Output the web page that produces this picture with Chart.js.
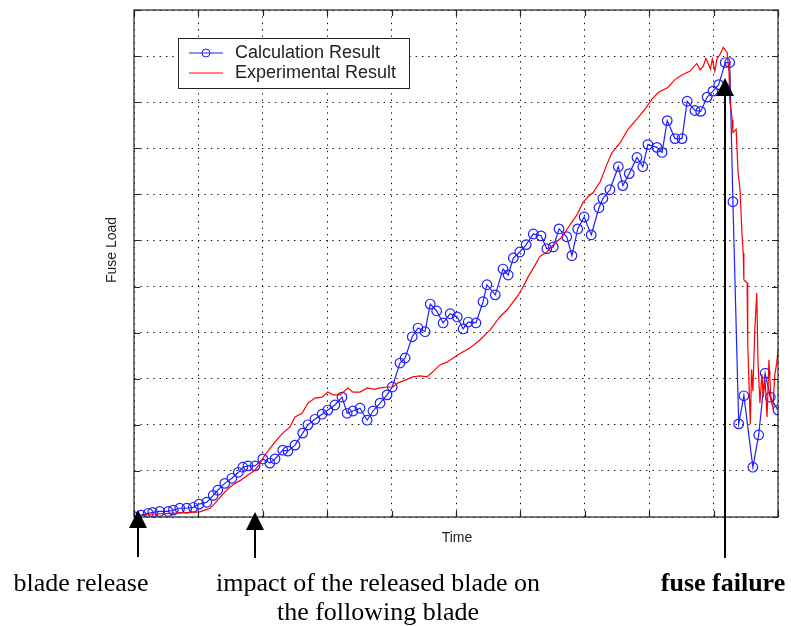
<!DOCTYPE html>
<html>
<head>
<meta charset="utf-8">
<script src="https://cdn.jsdelivr.net/npm/chart.js@4.4.1/dist/chart.umd.min.js"></script>
<style>
  html, body { margin: 0; padding: 0; background: #ffffff; }
  #wrap { width: 791px; height: 626px; position: relative; }
</style>
</head>
<body>
<div id="wrap"><canvas id="c" width="791" height="626"></canvas></div>
<script>
// ---- Data (arbitrary units: time 0..10, load 0..11) ----
const calcTime = [0.02,0.11,0.22,0.29,0.40,0.53,0.61,0.71,0.82,0.92,1.01,1.13,1.23,1.30,1.41,1.52,1.62,1.69,1.77,1.88,
  2.00,2.11,2.19,2.31,2.39,2.50,2.62,2.70,2.81,2.92,3.01,3.12,3.23,3.31,3.40,3.51,3.62,3.71,3.82,3.93,
  4.01,4.13,4.21,4.32,4.41,4.52,4.60,4.70,4.80,4.91,5.02,5.11,5.19,5.31,5.42,5.48,5.61,5.73,5.81,5.89,
  5.99,6.09,6.20,6.32,6.41,6.51,6.60,6.72,6.80,6.89,6.99,7.10,7.22,7.28,7.39,7.52,7.59,7.69,7.81,7.90,
  7.98,8.12,8.20,8.28,8.40,8.51,8.59,8.71,8.80,8.90,8.99,9.08,9.18,9.25,9.30,9.39,9.47,9.61,9.70,9.80,9.88,10.0];
const calcLoad = [0.00,0.04,0.08,0.10,0.12,0.12,0.15,0.19,0.19,0.21,0.28,0.32,0.47,0.58,0.73,0.84,0.97,1.08,1.11,1.11,
  1.26,1.17,1.26,1.45,1.43,1.56,1.82,2.00,2.12,2.23,2.32,2.43,2.60,2.25,2.30,2.36,2.10,2.30,2.47,2.65,
  2.82,3.34,3.45,3.91,4.10,4.02,4.62,4.47,4.21,4.41,4.34,4.08,4.23,4.21,4.67,5.04,4.82,5.38,5.25,5.62,
  5.75,5.91,6.14,6.10,5.82,5.86,6.25,6.08,5.67,6.25,6.51,6.12,6.71,6.91,7.10,7.60,7.19,7.45,7.80,7.60,
  8.08,8.02,7.91,8.60,8.21,8.21,9.02,8.82,8.80,9.11,9.24,9.38,9.86,9.86,6.84,2.02,2.63,1.08,1.78,3.12,2.60,2.32];

const expTime = [0.02,0.25,0.56,0.87,1.02,1.10,1.18,1.26,1.34,1.41,1.49,1.57,1.66,1.77,1.88,1.96,2.03,2.13,2.24,2.31,
  2.42,2.50,2.61,2.70,2.81,2.92,3.01,3.09,3.20,3.32,3.40,3.51,3.62,3.74,3.82,3.94,4.02,4.10,4.21,4.33,
  4.44,4.55,4.64,4.75,4.86,5.03,5.22,5.37,5.53,5.68,5.79,5.95,6.04,6.12,6.23,6.30,6.41,6.51,6.65,6.77,
  6.88,6.97,7.05,7.13,7.24,7.34,7.42,7.55,7.67,7.83,7.93,8.04,8.14,8.29,8.40,8.52,8.63,8.74,8.79,8.84,8.88,8.91,
  8.95,8.98,9.02,9.05,9.10,9.15,9.21,9.24,9.25,9.29,9.30,9.35,9.38,9.41,9.44,9.46,9.47,9.52,9.53,9.57,9.59,9.61,
  9.64,9.67,9.69,9.72,9.75,9.77,9.80,9.83,9.86,9.89,9.92,9.95,9.98,10.0];
const expLoad = [0.00,0.06,0.08,0.10,0.11,0.15,0.19,0.30,0.43,0.54,0.65,0.73,0.80,0.91,1.02,1.17,1.34,1.52,1.71,1.82,
  1.95,2.17,2.25,2.47,2.58,2.60,2.71,2.65,2.65,2.80,2.71,2.71,2.80,2.77,2.80,2.82,2.82,2.91,2.97,3.04,
  3.06,3.04,3.15,3.30,3.36,3.52,3.67,3.84,4.06,4.34,4.49,4.78,4.99,5.21,5.47,5.65,5.75,5.91,6.08,6.34,
  6.56,6.82,6.95,7.04,7.28,7.64,7.90,8.12,8.41,8.67,8.84,9.06,9.21,9.32,9.49,9.60,9.67,9.84,9.70,9.78,9.95,9.86,
  9.72,9.93,9.67,9.93,10.04,10.19,10.08,9.64,9.06,8.62,8.34,8.41,7.47,7.10,6.16,5.73,5.15,5.08,3.75,2.02,3.20,2.73,
  4.06,4.86,3.34,2.47,3.10,2.60,2.97,2.17,3.41,2.54,2.38,3.08,3.34,3.62];

const xTicks = [0,1,2,3,4,5,6,7,8,9,10];
const yTicks = [0,1,2,3,4,5,6,7,8,9,10,11];

const seriesNames = ['Calculation Result', 'Experimental Result'];
const axisTitles = { x: 'Time', y: 'Fuse Load' };
const notes = [
  { at: 0.06, lines: ['blade release'], bold: false },
  { at: 1.88, lines: ['impact of the released blade on', 'the following blade'], bold: false },
  { at: 9.18, lines: ['fuse failure'], bold: true }
];

const BLUE = '#1f1fff';
const RED = '#ff0000';

const calcPts = calcTime.map((t, i) => ({ x: t, y: calcLoad[i] }));
const expPts = expTime.map((t, i) => ({ x: t, y: expLoad[i] }));

const decor = {
  id: 'decor',
  afterDatasetsDraw(chart) {
    const ctx = chart.ctx;
    const a = chart.chartArea;
    const xs = chart.scales.x, ys = chart.scales.y;
    ctx.save();
    // frame
    ctx.strokeStyle = '#222';
    ctx.lineWidth = 1.2;
    ctx.setLineDash([]);
    ctx.strokeRect(a.left, a.top, a.right - a.left, a.bottom - a.top);
    // inward tick marks
    const tl = 6;
    ctx.beginPath();
    xTicks.forEach(v => {
      const px = Math.round(xs.getPixelForValue(v)) + 0.5;
      ctx.moveTo(px, a.bottom); ctx.lineTo(px, a.bottom - tl);
      ctx.moveTo(px, a.top); ctx.lineTo(px, a.top + tl);
    });
    yTicks.forEach(v => {
      const py = Math.round(ys.getPixelForValue(v)) + 0.5;
      ctx.moveTo(a.left, py); ctx.lineTo(a.left + tl, py);
      ctx.moveTo(a.right, py); ctx.lineTo(a.right - tl, py);
    });
    ctx.stroke();

    // legend box
    const lx = 178, ly = 38, lw = 231, lh = 50;
    ctx.fillStyle = '#fff';
    ctx.fillRect(lx, ly, lw, lh);
    ctx.strokeStyle = '#222';
    ctx.lineWidth = 1;
    ctx.strokeRect(lx + 0.5, ly + 0.5, lw, lh);
    const rows = [ly + 15, ly + 35];
    ctx.strokeStyle = BLUE; ctx.lineWidth = 1;
    ctx.beginPath(); ctx.moveTo(189, rows[0]); ctx.lineTo(223, rows[0]); ctx.stroke();
    ctx.beginPath(); ctx.arc(206, rows[0], 4, 0, Math.PI * 2); ctx.stroke();
    ctx.strokeStyle = RED;
    ctx.beginPath(); ctx.moveTo(189, rows[1]); ctx.lineTo(223, rows[1]); ctx.stroke();
    ctx.fillStyle = '#222';
    ctx.font = '18px "Liberation Sans", Arial, sans-serif';
    ctx.textBaseline = 'middle';
    ctx.textAlign = 'left';
    ctx.fillText(seriesNames[0], 235, rows[0]);
    ctx.fillText(seriesNames[1], 235, rows[1]);

    // axis titles
    ctx.font = '14px "Liberation Sans", Arial, sans-serif';
    ctx.textAlign = 'center';
    ctx.fillText(axisTitles.x, (a.left + a.right) / 2 + 1, 538);
    ctx.save();
    ctx.translate(112, 250);
    ctx.rotate(-Math.PI / 2);
    ctx.fillText(axisTitles.y, 0, 0);
    ctx.restore();

    // annotation arrows
    ctx.fillStyle = '#000';
    ctx.strokeStyle = '#000';
    ctx.lineWidth = 2;
    const arrows = [
      { i: 0, tip: 510, end: 557 },
      { i: 1, tip: 512, end: 558 },
      { i: 2, tip: 78, end: 558 }
    ];
    arrows.forEach(ar => {
      const px = Math.round(xs.getPixelForValue(notes[ar.i].at));
      const base = ar.tip + 18;
      ctx.beginPath();
      ctx.moveTo(px, ar.tip); ctx.lineTo(px - 9, base); ctx.lineTo(px + 9, base); ctx.closePath();
      ctx.fill();
      ctx.beginPath(); ctx.moveTo(px, base); ctx.lineTo(px, ar.end); ctx.stroke();
    });

    // annotation text
    ctx.textBaseline = 'alphabetic';
    ctx.fillStyle = '#000';
    const centers = [81, 378, 723];
    notes.forEach((n, k) => {
      ctx.font = (n.bold ? 'bold ' : '') + '26px "Liberation Serif", "Times New Roman", serif';
      n.lines.forEach((s, j) => {
        ctx.fillText(s, centers[k], 591 + j * 29);
      });
    });
    ctx.restore();
  }
};

new Chart(document.getElementById('c'), {
  type: 'scatter',
  data: {
    datasets: [
      {
        label: seriesNames[0],
        data: calcPts,
        showLine: true,
        borderColor: BLUE,
        borderWidth: 1.2,
        pointRadius: 4.8,
        pointBorderWidth: 1.2,
        pointBorderColor: BLUE,
        pointBackgroundColor: 'rgba(0,0,0,0)',
        order: 1
      },
      {
        label: seriesNames[1],
        data: expPts,
        showLine: true,
        borderColor: RED,
        borderWidth: 1.2,
        pointRadius: 0,
        order: 0
      }
    ]
  },
  options: {
    responsive: false,
    devicePixelRatio: 1,
    animation: false,
    layout: { padding: { left: 134, top: 10, right: 13, bottom: 109 } },
    plugins: { legend: { display: false }, tooltip: { enabled: false } },
    scales: {
      x: {
        type: 'linear', min: 0, max: 10,
        afterBuildTicks: s => { s.ticks = xTicks.map(v => ({ value: v })); },
        ticks: { display: false },
        grid: { color: '#111', lineWidth: 1, drawTicks: false },
        border: { display: false, dash: [1.4, 5] }
      },
      y: {
        type: 'linear', min: 0, max: 11,
        afterBuildTicks: s => { s.ticks = yTicks.map(v => ({ value: v })); },
        ticks: { display: false },
        grid: { color: '#111', lineWidth: 1, drawTicks: false },
        border: { display: false, dash: [1.4, 5] }
      }
    }
  },
  plugins: [decor]
});
</script>
</body>
</html>
